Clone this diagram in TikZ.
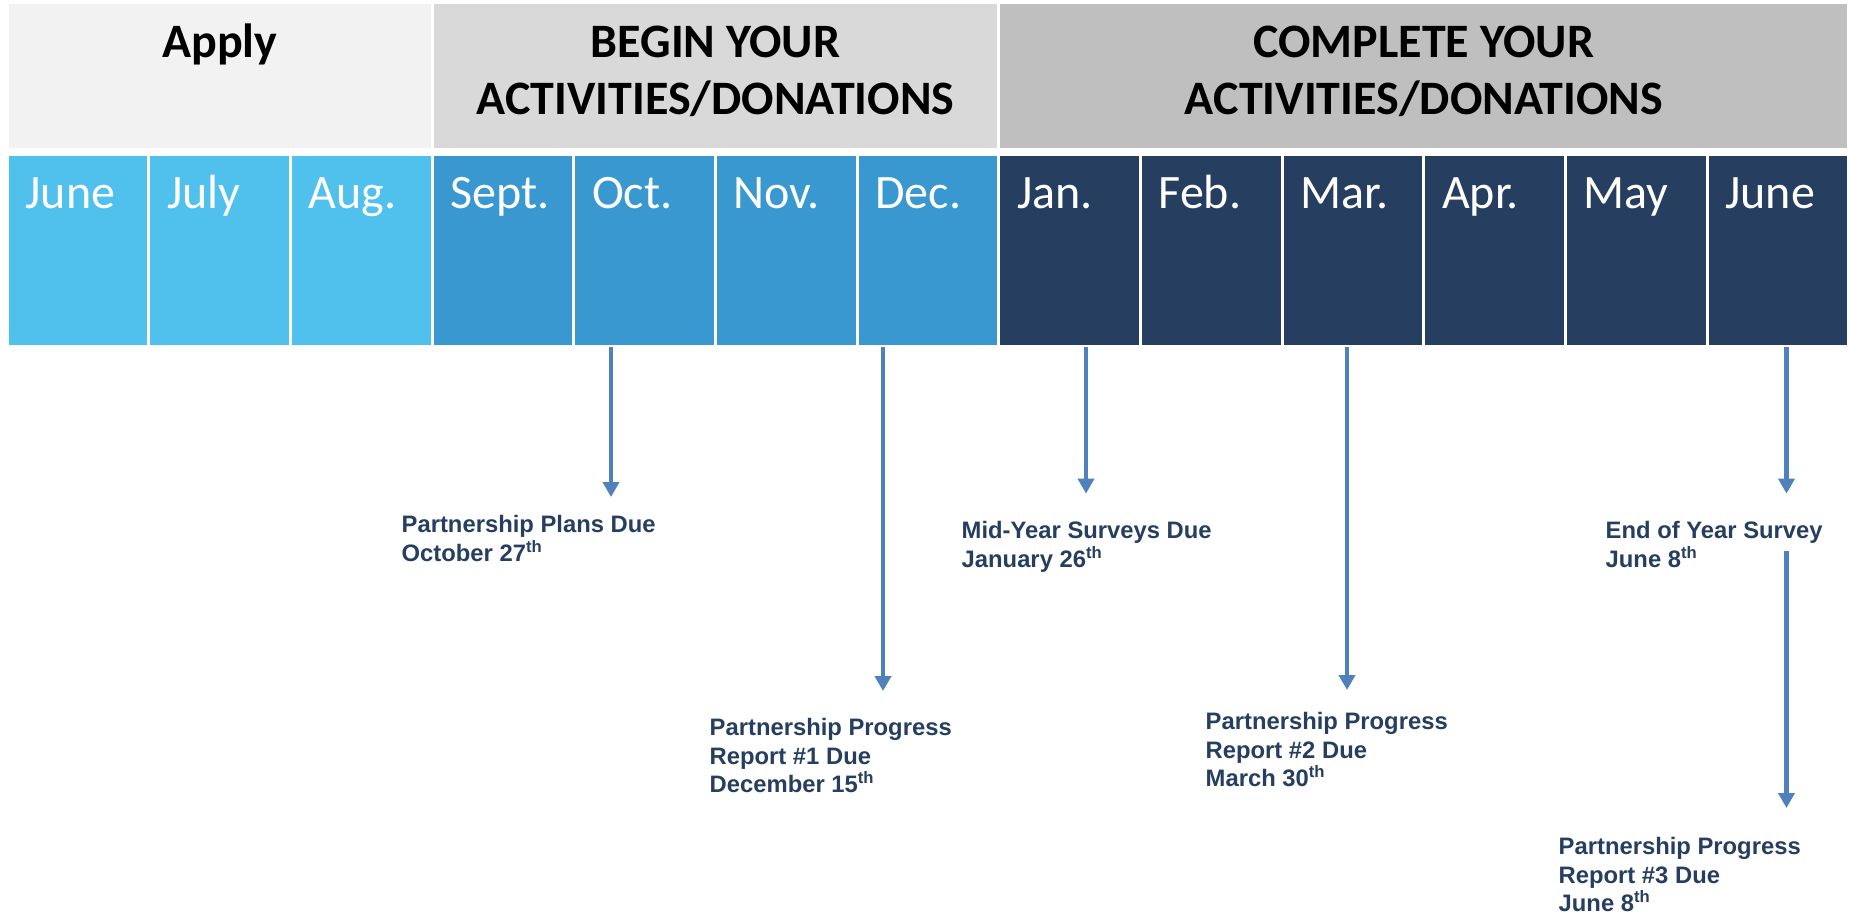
\documentclass[tikz,border=0pt]{standalone}
\usepackage{fontspec}
\usepackage{tikz}
\usetikzlibrary{positioning,arrows.meta}
\newfontfamily\calibri{Carlito}
\newfontfamily\arial{Liberation Sans}
\definecolor{applygray}{HTML}{F2F2F2}
\definecolor{begingray}{HTML}{D9D9D9}
\definecolor{completegray}{HTML}{BFBFBF}
\definecolor{skyblue}{HTML}{4FC1EC}
\definecolor{midblue}{HTML}{3A98D0}
\definecolor{navy}{HTML}{263F60}
\definecolor{arrowblue}{HTML}{4F81BD}

\begin{document}
\begin{tikzpicture}[x=1pt,y=1pt]
\tikzstyle{band}=[rectangle, draw=white, line width=3pt, inner sep=0pt, outer sep=0pt, minimum height=146.7pt]
\tikzstyle{cell}=[rectangle, draw=white, line width=3pt, inner sep=0pt, outer sep=0pt, minimum width=141.65pt, minimum height=192pt]
\tikzstyle{htext}=[inner sep=0pt, align=center, font=\calibri\bfseries\fontsize{48}{57}\selectfont]
\tikzstyle{mtext}=[inner sep=0pt, text height=35pt, text=white, font=\calibri\fontsize{48}{58}\selectfont]
\tikzstyle{note}=[inner sep=0pt, anchor=north west, align=left, text=navy, font=\arial\bfseries\fontsize{23.8}{28.7}\selectfont]
\tikzstyle{connect}=[-{Triangle[width=16pt,length=15pt]}, line width=4.5pt, draw=arrowblue]

\path[use as bounding box, fill=white] (0,0) rectangle (1849,-913);

%% Phases
  \node[band, fill=applygray, minimum width=424.95pt] (apply) at (219.775,-76.15) {};
  \node[band, fill=begingray, minimum width=566.6pt] (begin) [right=0pt of apply] {};
  \node[band, fill=completegray, minimum width=849.9pt] (complete) [right=0pt of begin] {};

  \node[htext] (apply_t) [below=20.7pt of apply.north] {Apply};
  \node[htext] (begin_t) [below=23.2pt of begin.north] {BEGIN YOUR\\ACTIVITIES/DONATIONS};
  \node[htext] (complete_t) [below=23.2pt of complete.north] {COMPLETE YOUR\\ACTIVITIES/DONATIONS};

%% Months
  \node[cell, fill=skyblue] (jun1) [below right=5pt and 0pt of apply.south west] {};
  \node[cell, fill=skyblue] (jul) [right=0pt of jun1] {};
  \node[cell, fill=skyblue] (aug) [right=0pt of jul] {};
  \node[cell, fill=midblue] (sep) [right=0pt of aug] {};
  \node[cell, fill=midblue] (oct) [right=0pt of sep] {};
  \node[cell, fill=midblue] (nov) [right=0pt of oct] {};
  \node[cell, fill=midblue] (dec) [right=0pt of nov] {};
  \node[cell, fill=navy] (jan) [right=0pt of dec] {};
  \node[cell, fill=navy] (feb) [right=0pt of jan] {};
  \node[cell, fill=navy] (mar) [right=0pt of feb] {};
  \node[cell, fill=navy] (apr) [right=0pt of mar] {};
  \node[cell, fill=navy] (may) [right=0pt of apr] {};
  \node[cell, fill=navy] (jun2) [right=0pt of may] {};

  \node[mtext] (jun1_t) [below right=18.5pt and 18pt of jun1.north west] {June};
  \node[mtext] (jul_t) [below right=18.5pt and 18pt of jul.north west] {July};
  \node[mtext] (aug_t) [below right=18.5pt and 18pt of aug.north west] {Aug.};
  \node[mtext] (sep_t) [below right=18.5pt and 18pt of sep.north west] {Sept.};
  \node[mtext] (oct_t) [below right=18.5pt and 18pt of oct.north west] {Oct.};
  \node[mtext] (nov_t) [below right=18.5pt and 18pt of nov.north west] {Nov.};
  \node[mtext] (dec_t) [below right=18.5pt and 18pt of dec.north west] {Dec.};
  \node[mtext] (jan_t) [below right=18.5pt and 18pt of jan.north west] {Jan.};
  \node[mtext] (feb_t) [below right=18.5pt and 18pt of feb.north west] {Feb.};
  \node[mtext] (mar_t) [below right=18.5pt and 18pt of mar.north west] {Mar.};
  \node[mtext] (apr_t) [below right=18.5pt and 18pt of apr.north west] {Apr.};
  \node[mtext] (may_t) [below right=18.5pt and 18pt of may.north west] {May};
  \node[mtext] (jun2_t) [below right=18.5pt and 18pt of jun2.north west] {June};

%% Deadlines
  \node[note] (plans) at (401.5,-515) {Partnership Plans Due\\October 27\textsuperscript{th}};
  \node[note] (report1) at (709.5,-718) {Partnership Progress\\Report \#1 Due\\December 15\textsuperscript{th}};
  \node[note] (midyear) at (961.5,-521) {Mid-Year Surveys Due\\January 26\textsuperscript{th}};
  \node[note] (report2) at (1205.5,-712) {Partnership Progress\\Report \#2 Due\\March 30\textsuperscript{th}};
  \node[note] (endyear) at (1605.5,-521) {End of Year Survey\\June 8\textsuperscript{th}};
  \node[note] (report3) at (1558.5,-837) {Partnership Progress\\Report \#3 Due\\June 8\textsuperscript{th}};

  \coordinate (plans_tip) at (611,-497);
  \coordinate (report1_tip) at (883,-691);
  \coordinate (midyear_tip) at (1086,-493.6);
  \coordinate (report2_tip) at (1347,-690);
  \coordinate (endyear_tip) at (1786.5,-493.6);
  \coordinate (report3_top) at (1786.5,-551);
  \coordinate (report3_tip) at (1786.5,-808);

  \path
           (oct.south -| plans_tip) edge [connect] (plans_tip)
           (dec.south -| report1_tip) edge [connect] (report1_tip)
           (jan.south -| midyear_tip) edge [connect] (midyear_tip)
           (mar.south -| report2_tip) edge [connect] (report2_tip)
           (jun2.south -| endyear_tip) edge [connect] (endyear_tip)
           (report3_top) edge [connect] (report3_tip);
\end{tikzpicture}
\end{document}
